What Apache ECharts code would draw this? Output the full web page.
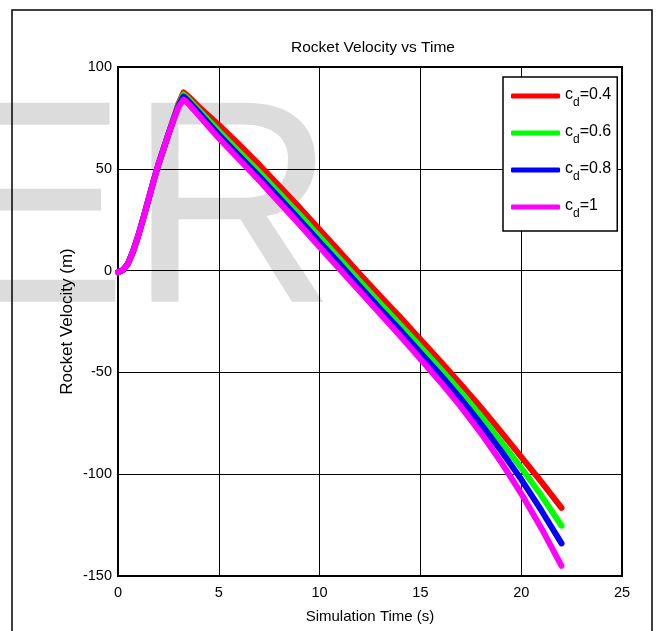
<!DOCTYPE html>
<html>
<head>
<meta charset="utf-8">
<script src="https://cdn.jsdelivr.net/npm/echarts@6/dist/echarts.min.js"></script>
<style>html,body{margin:0;padding:0;background:#fff;}#c{width:658px;height:631px;}</style>
</head>
<body>
<div id="c"></div>
<script>
const time = [0,0.25,0.5,0.75,1,1.25,1.5,1.75,2,2.25,2.5,2.75,3,3.25,3.5,4,5,6,7,8,9,10,11,12,13,14,15,16,17,18,19,20,21,22];
const velCd04 = [-0.8,0.3,3.5,9.5,17,25.5,34.5,43.5,52,59.5,67,74.5,82,87.5,85.5,80.5,71.5,62,52,41.5,31,20,9.2,-1.8,-12.5,-23,-33.8,-44.6,-55.8,-67.2,-79.2,-91.5,-103.8,-116.5];
const velCd06 = [-0.8,0.3,3.5,9.5,17,25.5,34.5,43.5,52,59.5,67,74.3,81.5,86.5,84.3,79,68.5,58.5,48.5,38,27.5,16.6,5.7,-5.3,-16,-26.6,-37.4,-48.3,-59.6,-71.5,-84,-96.8,-110.5,-125.3];
const velCd08 = [-0.8,0.3,3.5,9.5,17,25.5,34.5,43.5,52,59.5,67,74,81,85.5,83.2,77.8,66.7,56.5,46.3,35.7,25,14,3.2,-7.8,-18.7,-29.3,-40.3,-51.3,-62.9,-75.3,-88.5,-102.5,-117.8,-134];
const velCd1 = [-0.8,0.3,3.5,9.5,17,25.5,34.5,43.5,52,59.5,67,73.8,80.3,84,81.8,76.3,65,54.7,44.3,33.5,22.7,11.6,0.7,-10.3,-21.2,-32.1,-43.4,-54.8,-66.8,-79.8,-94,-109.5,-126.5,-145];
const seriesNames = ['cd=0.4','cd=0.6','cd=0.8','cd=1'];
const seriesLabels = ['0.4','0.6','0.8','1'];
const seriesColors = ['#ff0000','#00ff00','#0000ff','#ff00ff'];
const seriesValues = [velCd04, velCd06, velCd08, velCd1];
const xTicks = {min:0, max:25, interval:5};
const yTicks = {min:-150, max:100, interval:50};

const FONT = 'Liberation Sans, Arial, sans-serif';
const chart = echarts.init(document.getElementById('c'), null, {renderer:'canvas'});
const option = {
  backgroundColor:'#ffffff',
  animation:false,
  title:{
    text:'Rocket Velocity vs Time',
    left:368, top:35, textAlign:'center',
    textStyle:{fontFamily:FONT, fontSize:15.5, fontWeight:'normal', color:'#000'}
  },
  graphic:[
    {type:'text', z:-10, silent:true,
     style:{text:'ER', x:-65, y:222, font:'289px "Liberation Sans"', fill:'#dcdcdc', textAlign:'left', textVerticalAlign:'middle'}},
    {type:'rect', z:100, silent:true,
     shape:{x:12, y:10, width:640, height:640},
     style:{fill:'none', stroke:'#000', lineWidth:1.5}}
  ],
  grid:{left:118, right:36, top:67, bottom:55, show:true, borderColor:'#000', borderWidth:2, backgroundColor:'transparent'},
  legend:{
    orient:'vertical', left:503, top:77,
    padding:[10,6,11,8], itemGap:15,
    itemWidth:49, itemHeight:5, icon:'roundRect',
    borderColor:'#000', borderWidth:1.5, backgroundColor:'#fff',
    data:seriesNames,
    formatter:function(name){ const i = seriesNames.indexOf(name); return '{a|c}{b|d}{a|=' + seriesLabels[i] + '}'; },
    textStyle:{fontFamily:FONT, color:'#000',
      rich:{
        a:{fontFamily:FONT, fontSize:16, color:'#000', lineHeight:18, verticalAlign:'top'},
        b:{fontFamily:FONT, fontSize:12, color:'#000', lineHeight:12, padding:[10,0,0,0], verticalAlign:'top'}
      }}
  },
  xAxis:{
    type:'value', min:xTicks.min, max:xTicks.max, interval:xTicks.interval,
    name:'Simulation Time (s)', nameLocation:'middle', nameGap:33,
    nameTextStyle:{fontFamily:FONT, fontSize:15, color:'#000'},
    axisLine:{show:true, onZero:false, lineStyle:{color:'#000', width:2}},
    axisTick:{show:false},
    axisLabel:{fontFamily:FONT, fontSize:14.5, color:'#000', margin:9},
    splitLine:{show:true, lineStyle:{color:'#000', width:1}}
  },
  yAxis:{
    type:'value', min:yTicks.min, max:yTicks.max, interval:yTicks.interval,
    name:'Rocket Velocity (m)', nameLocation:'middle', nameGap:42, nameMoveOverlap:false,
    nameTextStyle:{fontFamily:FONT, fontSize:17, color:'#000'},
    axisLine:{show:true, onZero:false, lineStyle:{color:'#000', width:2}},
    axisTick:{show:false},
    axisLabel:{fontFamily:FONT, fontSize:14.5, color:'#000', margin:6},
    splitLine:{show:true, lineStyle:{color:'#000', width:1}}
  },
  series: seriesNames.map(function(n,i){
    return {
      name:n, type:'line', showSymbol:false, symbol:'none', smooth:false,
      data: time.map(function(t,k){ return [t, seriesValues[i][k]]; }),
      lineStyle:{color:seriesColors[i], width:6, cap:'round', join:'round'},
      itemStyle:{color:seriesColors[i]},
      z: 2 + i
    };
  })
};
chart.setOption(option);
</script>
</body>
</html>
